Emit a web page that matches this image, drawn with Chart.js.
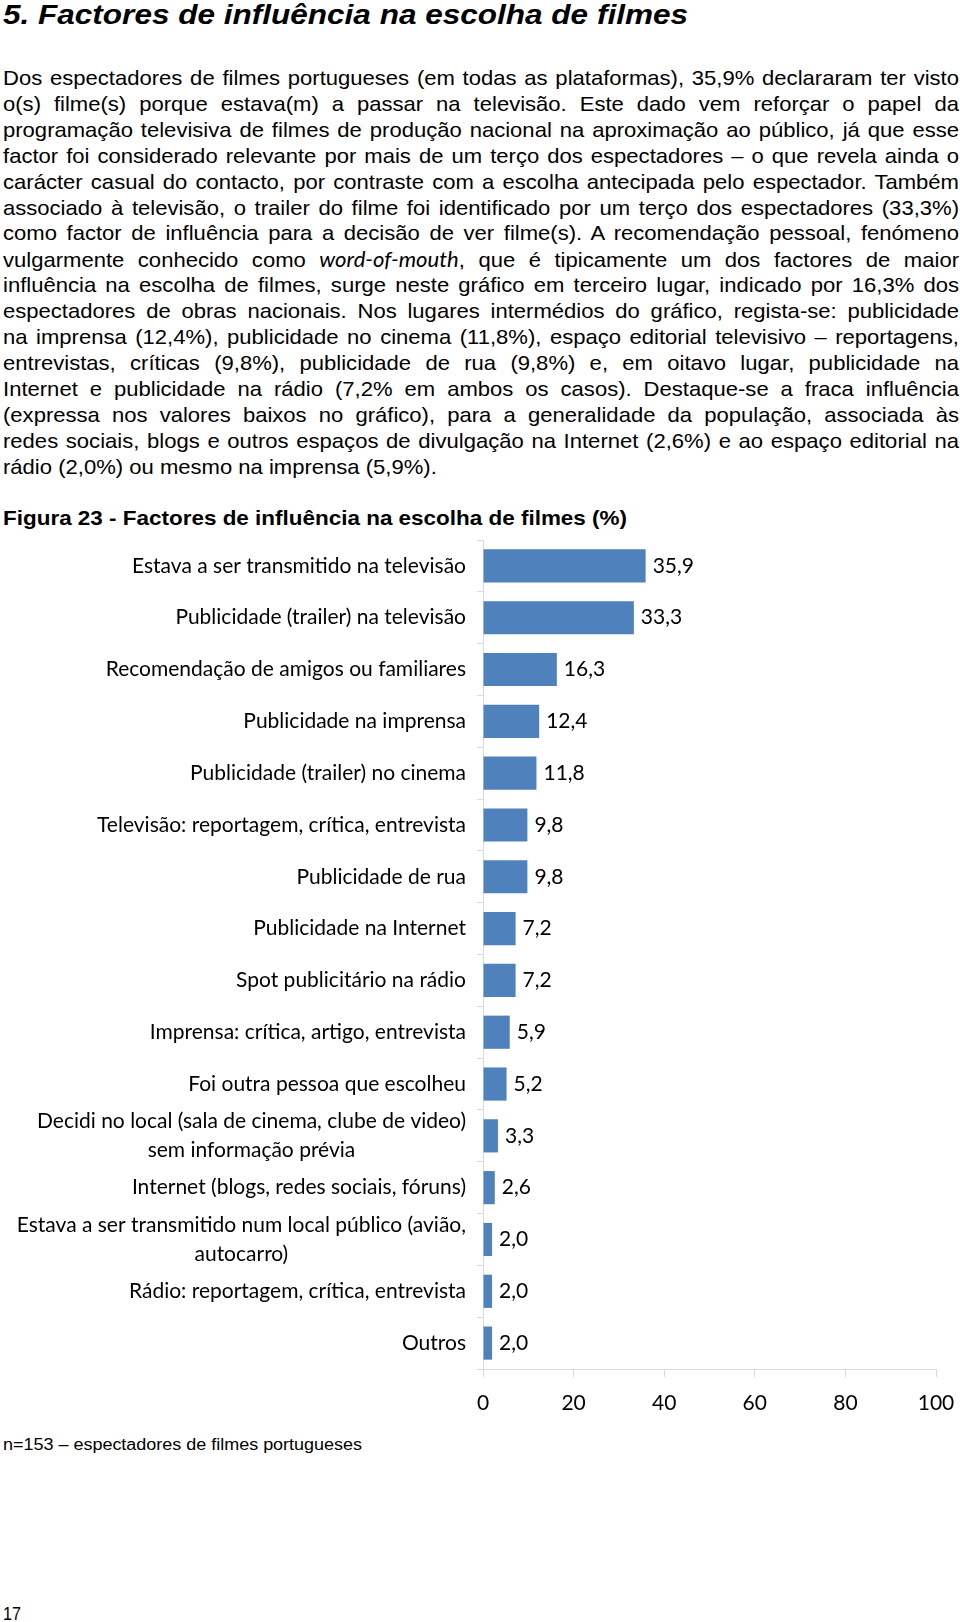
<!DOCTYPE html>
<html lang="pt">
<head>
<meta charset="utf-8">
<title>Factores de influência na escolha de filmes</title>
<script src="https://cdn.jsdelivr.net/npm/chart.js@4.4.1/dist/chart.umd.min.js"></script>
<style>
  html, body { margin: 0; padding: 0; background: #fff; }
  body { width: 960px; height: 1622px; position: relative; overflow: hidden; color: #000; }
  .fit { position: absolute; left: 3px; white-space: nowrap; transform-origin: 0 50%; line-height: 1; }
  .h1 { font: italic bold 28px "Liberation Sans", Arial, sans-serif; }
  .p { font: 21px "Liberation Sans", Arial, sans-serif; }
  .p i { font-family: "Lato", "Liberation Sans", sans-serif; }
  .fig { font: bold 21px "Liberation Sans", Arial, sans-serif; }
  .note { font: 16px "Liberation Sans", Arial, sans-serif; }
  .pg { font: 18px "Liberation Sans", Arial, sans-serif; }
  #chartBox { position: absolute; left: 0; top: 530px; width: 960px; height: 900px; }
</style>
</head>
<body>

<div id="page"></div>

<div id="chartBox">
  <canvas id="chartFactors"></canvas>
</div>

<script>
// dados do gráfico
const categories = [
  "Estava a ser transmitido na televisão",
  "Publicidade (trailer) na televisão",
  "Recomendação de amigos ou familiares",
  "Publicidade na imprensa",
  "Publicidade (trailer) no cinema",
  "Televisão: reportagem, crítica, entrevista",
  "Publicidade de rua",
  "Publicidade na Internet",
  "Spot publicitário na rádio",
  "Imprensa: crítica, artigo, entrevista",
  "Foi outra pessoa que escolheu",
  ["Decidi no local (sala de cinema, clube de video)", "sem informação prévia"],
  "Internet (blogs, redes sociais, fóruns)",
  ["Estava a ser transmitido num local público (avião,", "autocarro)"],
  "Rádio: reportagem, crítica, entrevista",
  "Outros",
];
const values = [35.9, 33.3, 16.3, 12.4, 11.8, 9.8, 9.8, 7.2, 7.2, 5.9, 5.2, 3.3, 2.6, 2.0, 2.0, 2.0];
const xTicks = [0, 20, 40, 60, 80, 100];

// texto da página
const paragraphLines = [
  "Dos espectadores de filmes portugueses (em todas as plataformas), 35,9% declararam ter visto",
  "o(s) filme(s) porque estava(m) a passar na televisão. Este dado vem reforçar o papel da",
  "programação televisiva de filmes de produção nacional na aproximação ao público, já que esse",
  "factor foi considerado relevante por mais de um terço dos espectadores – o que revela ainda o",
  "carácter casual do contacto, por contraste com a escolha antecipada pelo espectador. Também",
  "associado à televisão, o trailer do filme foi identificado por um terço dos espectadores (33,3%)",
  "como factor de influência para a decisão de ver filme(s). A recomendação pessoal, fenómeno",
  "vulgarmente conhecido como <i>word-of-mouth</i>, que é tipicamente um dos factores de maior",
  "influência na escolha de filmes, surge neste gráfico em terceiro lugar, indicado por 16,3% dos",
  "espectadores de obras nacionais. Nos lugares intermédios do gráfico, regista-se: publicidade",
  "na imprensa (12,4%), publicidade no cinema (11,8%), espaço editorial televisivo – reportagens,",
  "entrevistas, críticas (9,8%), publicidade de rua (9,8%) e, em oitavo lugar, publicidade na",
  "Internet e publicidade na rádio (7,2% em ambos os casos). Destaque-se a fraca influência",
  "(expressa nos valores baixos no gráfico), para a generalidade da população, associada às",
  "redes sociais, blogs e outros espaços de divulgação na Internet (2,6%) e ao espaço editorial na",
  "rádio (2,0%) ou mesmo na imprensa (5,9%).",
];

// w = largura final (0 = sem justificar), sq = escala horizontal base
function addLine(cls, html, centerY, width, squeeze) {
  const el = document.createElement("div");
  el.className = "fit " + cls;
  el.innerHTML = html;
  el.dataset.cy = centerY;
  el.dataset.w = width;
  el.dataset.sq = squeeze || 0;
  document.getElementById("page").appendChild(el);
}

addLine("h1", "5. Factores de influência na escolha de filmes", 15, 685);
paragraphLines.forEach((line, i) => {
  const last = i === paragraphLines.length - 1;
  addLine("p", line, 78 + i * 25.9, last ? 0 : 956, 1.05);
});
addLine("fig", "Figura 23 - Factores de influência na escolha de filmes (%)", 518, 624);
addLine("note", "n=153 – espectadores de filmes portugueses", 1445, 359);
addLine("pg", "17", 1614, 18);

// ajusta cada linha à largura do original (escala + justificação)
function fitLines() {
  document.querySelectorAll(".fit").forEach((el) => {
    const r = el.getBoundingClientRect();
    const target = Number(el.dataset.w);
    const sq = Number(el.dataset.sq);
    el.style.top = (Number(el.dataset.cy) - r.height / 2) + "px";
    let scale = target ? target / r.width : sq;
    if (target && sq && sq < scale) {
      const spaces = (el.textContent.match(/ /g) || []).length;
      if (spaces) {
        el.style.wordSpacing = ((target / sq - r.width) / spaces) + "px";
        scale = sq;
      }
    }
    el.style.transform = "scaleX(" + scale + ")";
  });
}

const labelFamily = "Lato, 'Open Sans', sans-serif";
const labelFont = "21px " + labelFamily;
const fmt = (v) => v.toFixed(1).replace(".", ",");

// rótulos das categorias (linhas centradas entre si, bloco alinhado à direita)
const categoryLabels = {
  id: "categoryLabels",
  afterDraw(chart) {
    const { ctx } = chart;
    const yScale = chart.scales.y;
    const right = chart.chartArea.left - 17;
    const lh = 29;
    ctx.save();
    ctx.font = labelFont;
    ctx.fillStyle = "#000";
    ctx.textAlign = "center";
    ctx.textBaseline = "middle";
    chart.data.labels.forEach((label, i) => {
      const lines = Array.isArray(label) ? label : [label];
      const maxW = Math.max(...lines.map((l) => ctx.measureText(l).width));
      const cy = yScale.getPixelForTick(i);
      lines.forEach((l, j) => {
        ctx.fillText(l, right - maxW / 2, cy + (j - (lines.length - 1) / 2) * lh);
      });
    });
    ctx.restore();
  },
};

// valores à direita das barras
const valueLabels = {
  id: "valueLabels",
  afterDatasetsDraw(chart) {
    const { ctx } = chart;
    const meta = chart.getDatasetMeta(0);
    const data = chart.data.datasets[0].data;
    ctx.save();
    ctx.font = labelFont;
    ctx.fillStyle = "#000";
    ctx.textAlign = "left";
    ctx.textBaseline = "middle";
    meta.data.forEach((bar, i) => {
      const pos = bar.getProps(["x", "y"], true);
      ctx.fillText(fmt(data[i]), pos.x + 7, pos.y);
    });
    ctx.restore();
  },
};

function buildChart() {
  const ctx = document.getElementById("chartFactors");
  return new Chart(ctx, {
    type: "bar",
    data: {
      labels: categories,
      datasets: [{
        data: values,
        backgroundColor: "#4f81bd",
        borderWidth: 0,
        barPercentage: 1,
        categoryPercentage: 0.64,
      }],
    },
    plugins: [categoryLabels, valueLabels],
    options: {
      indexAxis: "y",
      responsive: true,
      maintainAspectRatio: false,
      devicePixelRatio: 1,
      animation: false,
      events: [],
      layout: { padding: { top: 10, right: 24, bottom: 0, left: 0 } },
      plugins: { legend: { display: false }, tooltip: { enabled: false } },
      scales: {
        x: {
          min: 0,
          max: 100,
          afterBuildTicks(scale) {
            scale.ticks = xTicks.map((v) => ({ value: v }));
          },
          afterFit(scale) {
            scale.height = 61;
            scale.paddingLeft = 0;
            scale.paddingRight = 0;
          },
          border: { display: true, color: "#d9d9d9", width: 1 },
          grid: { drawOnChartArea: false, drawTicks: true, tickLength: 8, color: "#d9d9d9" },
          ticks: {
            color: "#000",
            font: { family: labelFamily, size: 21 },
            padding: 14,
            maxRotation: 0,
          },
        },
        y: {
          afterFit(scale) { scale.width = 483; },
          border: { display: true, color: "#d9d9d9", width: 1 },
          grid: { offset: true, drawOnChartArea: false, drawTicks: true, tickLength: 6, color: "#d9d9d9" },
          ticks: { display: false },
        },
      },
    },
  });
}

const ready = document.fonts ? document.fonts.ready : Promise.resolve();
ready.then(() => {
  fitLines();
  buildChart();
});
</script>
</body>
</html>
